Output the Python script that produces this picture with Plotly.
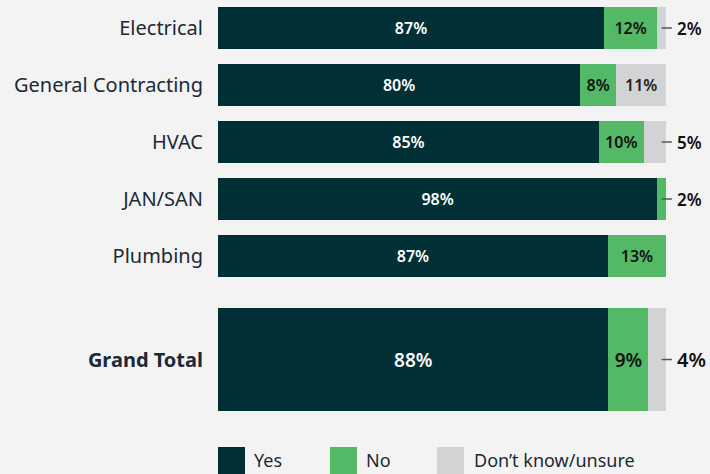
import plotly.graph_objects as go

# ---- data ----
categories = ["Electrical", "General Contracting", "HVAC", "JAN/SAN", "Plumbing", "Grand Total"]
yes = [87, 80, 85, 98, 87, 88]
no = [12, 8, 10, 2, 13, 9]
unsure = [2, 11, 5, 0, 0, 4]
series_names = ["Yes", "No", "Don\u2019t know/unsure"]

# ---- style ----
FONT = "Noto Sans"
BG = "#f3f3f3"
colors = ["#002f36", "#53b966", "#d1d3d5"]
text_colors = ["#ffffff", "#111111", "#222222"]

# layout positions (grand total bar is larger and set apart)
pos = [0, 1, 2, 3, 4, 5.816]
widths = [0.737] * 5 + [1.807]
label_sizes = [16] * 5 + [19]
XMAX = 109.8

fig = go.Figure()
series = [yes, no, unsure]
for name, vals, col, tcol in zip(series_names, series, colors, text_colors):
    txt = [f"{v}%" if v >= 6 else "" for v in vals]
    fig.add_trace(go.Bar(
        y=pos, x=vals, orientation="h", width=widths, name=name,
        marker=dict(color=col, line=dict(width=0)),
        text=txt, textposition="inside", insidetextanchor="middle", textangle=0,
        textfont=dict(color=tcol, size=label_sizes, family=FONT, weight=600),
        hoverinfo="skip", showlegend=False,
    ))

# outside labels for small segments
for vals in series[1:]:
    for i, v in enumerate(vals):
        if 0 < v < 6:
            fig.add_shape(type="line", xref="x", yref="y", x0=99, x1=101.3,
                          y0=pos[i], y1=pos[i], line=dict(color="#555555", width=1.5))
            fig.add_annotation(x=101.9, y=pos[i], xref="x", yref="y", text=f"{v}%",
                               showarrow=False, xanchor="left", yanchor="middle",
                               font=dict(family=FONT, size=label_sizes[i] + 1, color="#111111", weight=600))

# custom legend
W = 492.0
H = 474.0
leg_x = [0, 112, 219]
leg_tx = [34, 146, 254]
for j, name in enumerate(series_names):
    fig.add_shape(type="rect", xref="paper", yref="paper",
                  x0=leg_x[j] / W, x1=(leg_x[j] + 27) / W, y0=-0.01, y1=27 / H,
                  line=dict(width=0), fillcolor=colors[j])
    fig.add_annotation(xref="paper", yref="paper", x=leg_tx[j] / W, y=14 / H,
                       text=name, showarrow=False, xanchor="left", yanchor="middle",
                       font=dict(family=FONT, size=18, color="#1b2a35"))

ticktext = categories[:-1] + ["<b>" + categories[-1] + "</b>"]

fig.update_layout(
    width=710, height=474,
    margin=dict(l=218, r=0, t=0, b=0),
    paper_bgcolor=BG, plot_bgcolor=BG,
    barmode="stack", barnorm="percent",
    font=dict(family=FONT, color="#1b2a35"),
    xaxis=dict(range=[0, XMAX], visible=False, showgrid=False, zeroline=False),
    yaxis=dict(range=[(474 - 28) / 57, -28 / 57], tickmode="array", tickvals=pos,
               ticktext=ticktext, showgrid=False, zeroline=False, showline=False,
               ticks="outside", ticklen=10, tickcolor="rgba(0,0,0,0)",
               tickfont=dict(family=FONT, size=20, color="#1b2a35")),
)

fig.write_html("out.html")
